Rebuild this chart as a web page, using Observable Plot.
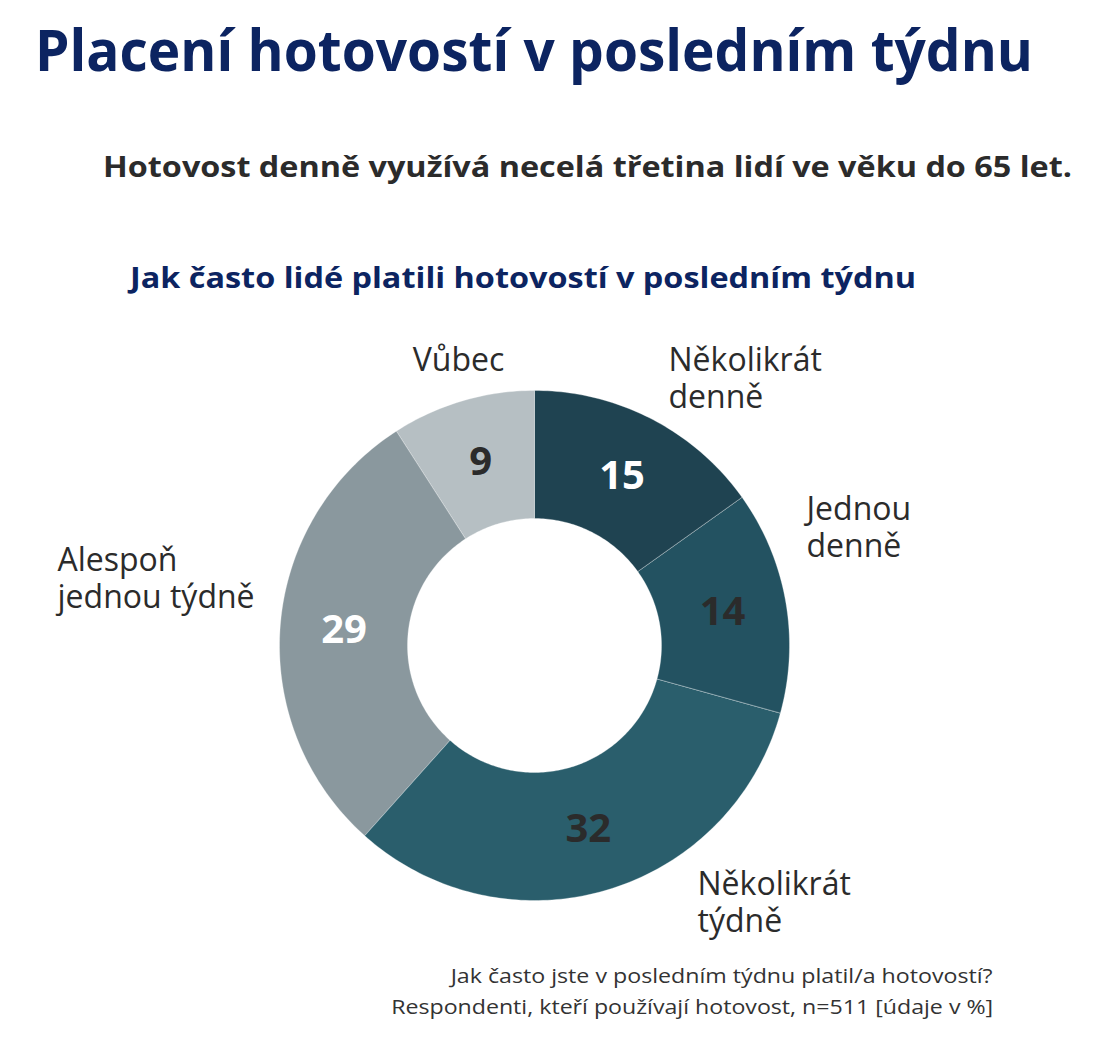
<!DOCTYPE html>
<html>
<head>
<meta charset="utf-8">
<script src="https://cdn.jsdelivr.net/npm/d3@7"></script>
<script src="https://cdn.jsdelivr.net/npm/@observablehq/plot@0.6"></script>
<style>
  html, body { margin: 0; padding: 0; background: #fff; }
  #page { position: relative; width: 1112px; height: 1038px; overflow: hidden; font-family: "Open Sans", "Noto Sans", sans-serif; }
  .t { position: absolute; white-space: nowrap; line-height: 1; transform-origin: 0 0; }
  #title { left: 35px; top: 20px; font-size: 58px; font-weight: 700; color: #0c2461; }
  #subtitle { left: 103px; top: 152px; font-size: 28px; font-weight: 700; color: #2b2b2b; }
  #charttitle { left: 130px; top: 262px; font-size: 29px; font-weight: 700; color: #0c2461; }
  #chart { position: absolute; left: 0; top: 300px; }
  .cap { position: absolute; white-space: nowrap; font-size: 20px; line-height: 31px; color: #333; transform-origin: 100% 0; right: 119px; }
</style>
</head>
<body>
<div id="page">
  <div id="title" class="t">Placení hotovostí v posledním týdnu</div>
  <div id="subtitle" class="t">Hotovost denně využívá necelá třetina lidí ve věku do 65 let.</div>
  <div id="charttitle" class="t">Jak často lidé platili hotovostí v posledním týdnu</div>
  <div id="chart"></div>
  <div id="cap1" class="cap" style="top:960px">Jak často jste v posledním týdnu platil/a hotovostí?</div>
  <div id="cap2" class="cap" style="top:991px">Respondenti, kteří používají hotovost, n=511 [údaje v %]</div>
</div>
<script>
// ---- data ----
const categories = ["Několikrát denně", "Jednou denně", "Několikrát týdně", "Alespoň jednou týdně", "Vůbec"];
const labelLines = ["Několikrát\ndenně", "Jednou\ndenně", "Několikrát\ntýdně", "Alespoň\njednou týdně", "Vůbec"];
const values = [15, 14, 32, 29, 9];

// ---- styles / layout ----
const colors = ["#1f4351", "#235261", "#2a5e6c", "#8a989e", "#b6bfc3"];
const valueTextColors = ["#ffffff", "#2b2b2b", "#2b2b2b", "#ffffff", "#2b2b2b"];
const outerR = 255, innerR = 127, valueR = 191;
// outer label anchor offsets from donut centre (px), and text anchor
const labelPlacement = [
  {dx: 134, dy: 268, anchor: "start"},
  {dx: 272, dy: 119, anchor: "start"},
  {dx: 163, dy: -256, anchor: "start"},
  {dx: -477, dy: 68, anchor: "start"},
  {dx: -76, dy: 286, anchor: "middle"}
];

const W = 1112, H = 640, CX = 534, CY = 345;

const pie = d3.pie().sort(null).value(d => d.value).startAngle(0).endAngle(2 * Math.PI);
const rows = categories.map((c, i) => ({cat: c, value: values[i], i}));
const arcs = pie(rows);

// polygon points for each slice (angle clockwise from 12 o'clock)
const pts = [];
for (const a of arcs) {
  const n = Math.max(8, Math.ceil((a.endAngle - a.startAngle) / (Math.PI / 180)));
  for (let k = 0; k <= n; k++) {
    const t = a.startAngle + (a.endAngle - a.startAngle) * k / n;
    pts.push({cat: a.data.cat, x: outerR * Math.sin(t), y: outerR * Math.cos(t)});
  }
  for (let k = n; k >= 0; k--) {
    const t = a.startAngle + (a.endAngle - a.startAngle) * k / n;
    pts.push({cat: a.data.cat, x: innerR * Math.sin(t), y: innerR * Math.cos(t)});
  }
}
const valueLabels = arcs.map(a => {
  const m = (a.startAngle + a.endAngle) / 2;
  return {cat: a.data.cat, text: String(a.data.value), x: valueR * Math.sin(m), y: valueR * Math.cos(m), color: valueTextColors[a.data.i]};
});
const outerLabels = categories.map((c, i) => ({text: labelLines[i], x: labelPlacement[i].dx, y: labelPlacement[i].dy, anchor: labelPlacement[i].anchor}));

const plot = Plot.plot({
  width: W, height: H,
  margin: 0,
  style: {fontFamily: "'Open Sans', 'Noto Sans', sans-serif", background: "transparent", overflow: "visible"},
  x: {domain: [-CX, W - CX], axis: null},
  y: {domain: [-(H - CY), CY], axis: null},
  color: {domain: categories, range: colors},
  marks: [
    Plot.line(pts, {x: "x", y: "y", z: "cat", fill: "cat", stroke: "#ffffff", strokeWidth: 0.6, strokeOpacity: 0.5, curve: "linear-closed"}),
    Plot.text(valueLabels.filter(d => d.color === "#ffffff"), {x: "x", y: "y", text: "text", fill: "#ffffff", fontSize: 40, fontWeight: 700}),
    Plot.text(valueLabels.filter(d => d.color !== "#ffffff"), {x: "x", y: "y", text: "text", fill: "#2b2b2b", fontSize: 40, fontWeight: 700}),
    Plot.text(outerLabels.filter(d => d.anchor === "start"), {x: "x", y: "y", text: "text", textAnchor: "start", fill: "#2b2b2b", fontSize: 32, lineHeight: 1.16}),
    Plot.text(outerLabels.filter(d => d.anchor === "middle"), {x: "x", y: "y", text: "text", textAnchor: "middle", fill: "#2b2b2b", fontSize: 32, lineHeight: 1.16})
  ]
});
document.getElementById("chart").appendChild(plot);

function fit(id, target) {
  const el = document.getElementById(id);
  const w = el.getBoundingClientRect().width;
  if (w > 0) el.style.transform = `scaleX(${target / w})`;
}
fit("title", 998);
fit("subtitle", 969);
fit("charttitle", 786);
fit("cap1", 542);
fit("cap2", 602);
</script>
</body>
</html>
